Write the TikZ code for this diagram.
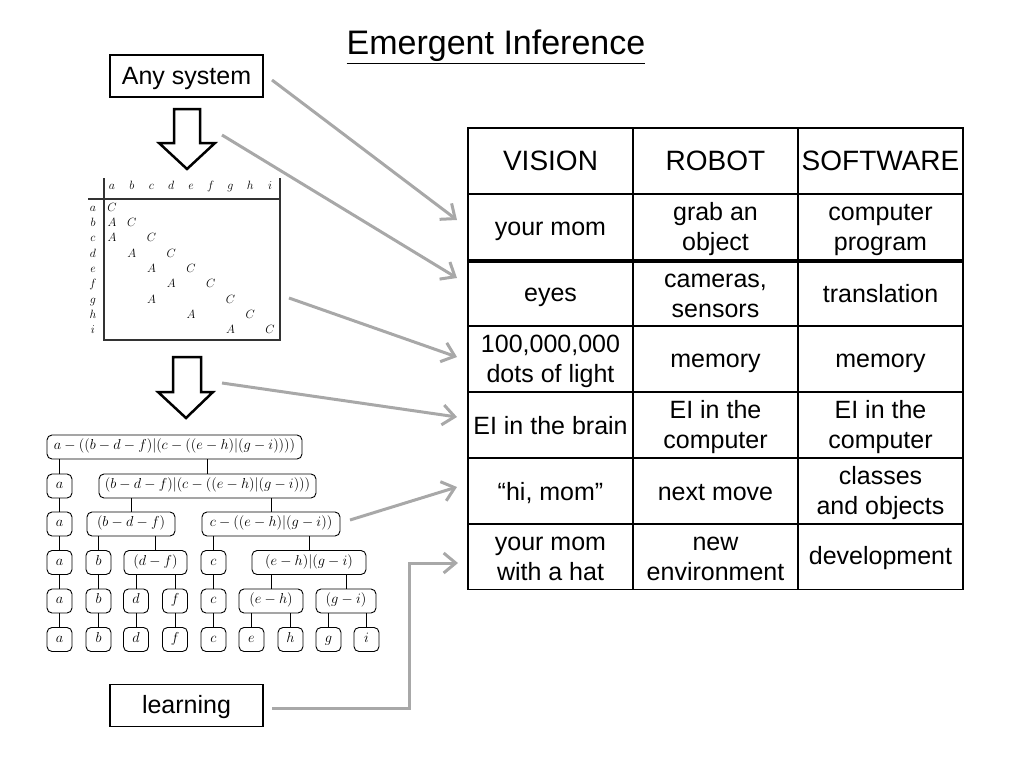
\documentclass[tikz,border=0pt]{standalone}
\usepackage{fontspec}
\setmainfont{Liberation Sans}
\usetikzlibrary{arrows.meta}
\definecolor{arrowgray}{RGB}{168,168,168}
\newcommand{\cst}{\rule[-4pt]{0pt}{26pt}}
\begin{document}
\begin{tikzpicture}[x=1pt,y=-1pt,
  cell/.style={draw, line width=1.5pt, minimum width=165pt, minimum height=66pt, inner sep=0pt, align=center, font=\fontsize{25}{30}\selectfont},
  headcell/.style={cell, font=\fontsize{28}{32}\selectfont},
  lbox/.style={draw, line width=1.2pt, minimum width=153pt, minimum height=42pt, inner sep=0pt, font=\fontsize{25}{30}\selectfont},
  tn/.style={draw, line width=0.9pt, rounded corners=5pt, minimum height=24pt, minimum width=25pt, inner sep=0pt, text height=9pt, text depth=3.5pt, font=\fontsize{14}{16}\selectfont},
  tl/.style={line width=0.9pt},
  mx/.style={inner sep=0pt, anchor=base, font=\fontsize{13}{15}\selectfont},
  gar/.style={draw=arrowgray, line width=3pt, -{Straight Barb[length=12pt,width=20pt]}},
  hollow/.style={draw, line width=2.5pt, fill=white, line join=miter},
  mline/.style={line width=1.2pt, draw=black!80},
]
\useasboundingbox (0,0) rectangle (1024,768);

% title
\node[font=\fontsize{34}{40}\selectfont, anchor=base, inner sep=0pt] (title) at (496,55) {\underline{Emergent Inference}};

% side boxes
\node[lbox] (any) at (186.5,76) {\cst Any system};
\node[lbox] (learn) at (186.5,705.5) {\cst learning};

% hollow arrows
\draw[hollow] (174,109) -- (200,109) -- (200,143) -- (215,143) -- (187,169) -- (159,143) -- (174,143) -- cycle;
\draw[hollow] (173,357) -- (201,357) -- (201,392) -- (213,392) -- (186,418) -- (158,392) -- (173,392) -- cycle;

% matrix
\draw[mline] (104,178) -- (104,340) -- (280,340) -- (280,178);
\draw[mline] (88,199) -- (280,199);
\foreach \l [count=\k from 0] in {a,b,c,d,e,f,g,h,i} {
  \node[mx] (col\l) at (112+19.75*\k,189) {$\l$};
  \node[mx] (row\l) at (93,211+15.35*\k) {$\l$};
}
\foreach \r/\cc in {0/0,1/1,2/2,3/3,4/4,5/5,6/6,7/7,8/8}
  \node[mx] (mc\r) at (112+19.75*\cc,211+15.35*\r) {$C$};
\foreach \r/\ac in {1/0,2/0,3/1,4/2,5/3,6/2,7/4,8/6}
  \node[mx] (ma\r) at (112+19.75*\ac,211+15.35*\r) {$A$};

% tree
\node[tn, minimum width=255pt] (root) at (174.5,447) {$a-((b-d-f)|(c-((e-h)|(g-i))))$};
\node[tn] (a1) at (59.5,486) {$a$};
\node[tn, minimum width=217pt] (big) at (207.5,486) {$(b-d-f)|(c-((e-h)|(g-i)))$};
\node[tn] (a2) at (59.5,524) {$a$};
\node[tn, minimum width=88pt] (bdf) at (131,524) {$(b-d-f)$};
\node[tn, minimum width=138pt] (cx) at (271,524) {$c-((e-h)|(g-i))$};
\node[tn] (a3) at (59.5,562.5) {$a$};
\node[tn] (b1) at (98.5,562.5) {$b$};
\node[tn, minimum width=63pt] (df) at (155.5,562.5) {$(d-f)$};
\node[tn] (c1) at (213.5,562.5) {$c$};
\node[tn, minimum width=114pt] (ehgi) at (309,562.5) {$(e-h)|(g-i)$};
\node[tn] (a4) at (59.5,601) {$a$};
\node[tn] (b2) at (98.5,601) {$b$};
\node[tn] (d1) at (136,601) {$d$};
\node[tn] (f1) at (175,601) {$f$};
\node[tn] (c2) at (213.5,601) {$c$};
\node[tn, minimum width=64pt] (eh) at (271,601) {$(e-h)$};
\node[tn, minimum width=60pt] (gi) at (346,601) {$(g-i)$};
\node[tn] (a5) at (59.5,639.5) {$a$};
\node[tn] (b3) at (98.5,639.5) {$b$};
\node[tn] (d2) at (136,639.5) {$d$};
\node[tn] (f2) at (175,639.5) {$f$};
\node[tn] (c3) at (213.5,639.5) {$c$};
\node[tn] (e) at (251.5,639.5) {$e$};
\node[tn] (h) at (290.5,639.5) {$h$};
\node[tn] (g) at (328.5,639.5) {$g$};
\node[tn] (i) at (366.5,639.5) {$i$};
\foreach \c/\p in {a1/root,big/root,a2/a1,bdf/big,cx/big,a3/a2,b1/bdf,df/bdf,c1/cx,ehgi/cx,
  a4/a3,b2/b1,d1/df,f1/df,c2/c1,eh/ehgi,gi/ehgi,a5/a4,b3/b2,d2/d1,f2/f1,c3/c2,e/eh,h/eh,g/gi,i/gi}
  \draw[tl] (\c.north) -- (\c.north |- \p.south);

% table
\node[headcell] (h1) at (550.5,161) {VISION};
\node[headcell] (h2) at (715.5,161) {ROBOT};
\node[headcell] (h3) at (880.5,161) {SOFTWARE};
\node[cell] (r1c1) at (550.5,227) {\cst your mom};
\node[cell] (r1c2) at (715.5,227) {\cst grab an\\\cst object};
\node[cell] (r1c3) at (880.5,227) {\cst computer\\\cst program};
\node[cell] (r2c1) at (550.5,293) {\cst eyes};
\node[cell] (r2c2) at (715.5,293) {\cst cameras,\\\cst sensors};
\node[cell] (r2c3) at (880.5,293) {\cst translation};
\node[cell] (r3c1) at (550.5,359) {\cst 100,000,000\\\cst dots of light};
\node[cell] (r3c2) at (715.5,359) {\cst memory};
\node[cell] (r3c3) at (880.5,359) {\cst memory};
\node[cell] (r4c1) at (550.5,425) {\cst EI in the brain};
\node[cell] (r4c2) at (715.5,425) {\cst EI in the\\\cst computer};
\node[cell] (r4c3) at (880.5,425) {\cst EI in the\\\cst computer};
\node[cell] (r5c1) at (550.5,491) {\cst “hi, mom”};
\node[cell] (r5c2) at (715.5,491) {\cst next move};
\node[cell] (r5c3) at (880.5,491) {\cst classes\\\cst and objects};
\node[cell] (r6c1) at (550.5,556.5) {\cst your mom\\\cst with a hat};
\node[cell] (r6c2) at (715.5,556.5) {\cst new\\\cst environment};
\node[cell] (r6c3) at (880.5,556.5) {\cst development};
\draw[line width=4pt] (r1c1.south west) -- (r1c3.south east);

% gray arrows
\coordinate (s1) at (272,80);
\coordinate (s2) at (222,135);
\coordinate (s3) at (289,298);
\coordinate (s4) at (222,383);
\coordinate (s5) at (350,520);
\coordinate (s6) at (272,708);
\coordinate (t1) at (457,220);
\coordinate (t2) at (457,278);
\coordinate (t3) at (457,357);
\coordinate (t4) at (457,417);
\coordinate (t5) at (457,487);
\coordinate (t6) at (458,563);
\coordinate (bend) at (409,708);
\draw[gar] (s1) -- (t1);
\draw[gar] (s2) -- (t2);
\draw[gar] (s3) -- (t3);
\draw[gar] (s4) -- (t4);
\draw[gar] (s5) -- (t5);
\draw[gar] (s6) -- (bend) |- (t6);
\end{tikzpicture}
\end{document}
